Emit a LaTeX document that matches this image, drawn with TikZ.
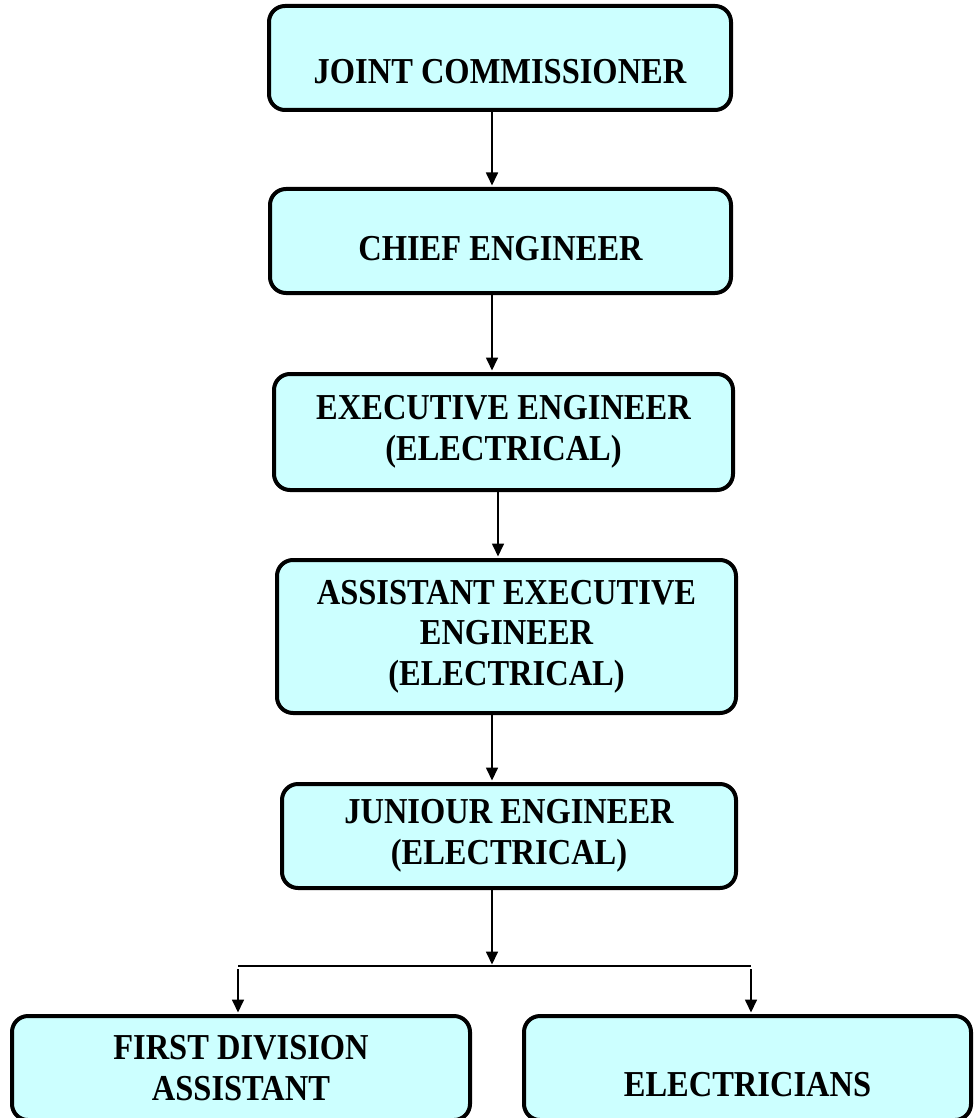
\documentclass[tikz,border=0pt]{standalone}
\usepackage{fontspec}
\setmainfont{Liberation Serif}[FakeStretch=0.89]
\usetikzlibrary{arrows.meta,positioning,calc}
\definecolor{boxfill}{HTML}{CCFFFF}

\begin{document}
\begin{tikzpicture}[x=1pt,y=-1pt,
  box/.style={draw,line width=4pt,rounded corners=16pt,fill=boxfill,align=center,
    inner sep=0pt,font=\fontsize{36.5}{40.5}\selectfont\bfseries},
  low/.style={text height=#1,text depth=0pt},
  arr/.style={line width=1.7pt,shorten >=1.5pt,-{Triangle[width=12pt,length=13pt]}}]
\useasboundingbox (0,0) rectangle (975,1118);

\node[box,minimum width=462pt,minimum height=104pt,low=52pt] (jc) at (500,58) {JOINT COMMISSIONER};
\node[box,minimum width=461pt,minimum height=104pt,low=38pt] (ce) at (500.5,241) {CHIEF ENGINEER};
\node[box,minimum width=459pt,minimum height=116pt] (ee) at (503.5,432) {EXECUTIVE ENGINEER\\(ELECTRICAL)};
\node[box,minimum width=459pt,minimum height=153pt] (aee) at (506.5,636.5) {ASSISTANT EXECUTIVE\\ENGINEER\\(ELECTRICAL)};
\node[box,minimum width=454pt,minimum height=104pt] (je) at (509,836) {JUNIOUR ENGINEER\\(ELECTRICAL)};
\node[box,minimum width=458pt,minimum height=104pt] (fda) at (241,1068) {FIRST DIVISION\\ASSISTANT};
\node[box,minimum width=447pt,minimum height=104pt,low=56pt] (el) at (747.5,1068) {ELECTRICIANS};

\coordinate (spine) at (492,0);
\coordinate (spine2) at (498,0);
\coordinate (fork) at (492,966);
\coordinate (forkl) at (238,969);
\coordinate (forkr) at (751,969);

\draw[arr] (jc.south -| spine) -- (ce.north -| spine);
\draw[arr] (ce.south -| spine) -- (ee.north -| spine);
\draw[arr] (ee.south -| spine2) -- (aee.north -| spine2);
\draw[arr] (aee.south -| spine) -- (je.north -| spine);
\draw[arr] (je.south -| spine) -- (fork);
\draw[line width=1.7pt] (fork -| forkl) -- (fork -| forkr);
\draw[arr] (forkl) -- (fda.north -| forkl);
\draw[arr] (forkr) -- (el.north -| forkr);
\end{tikzpicture}
\end{document}
